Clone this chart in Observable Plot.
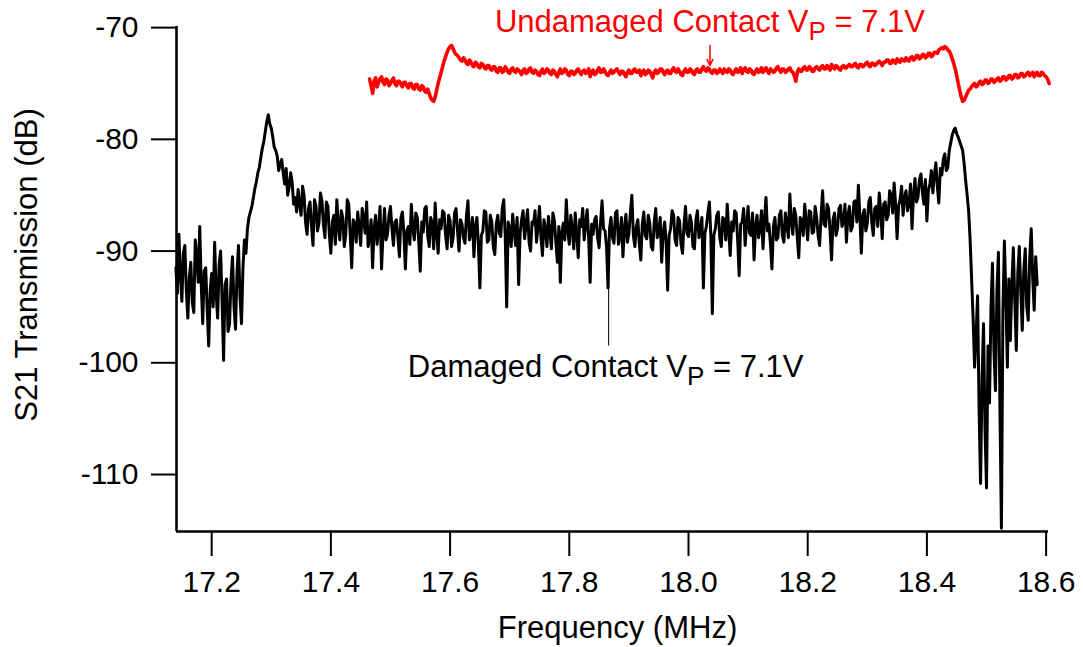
<!DOCTYPE html>
<html>
<head>
<meta charset="utf-8">
<script src="https://cdn.jsdelivr.net/npm/d3@7"></script>
<script src="https://cdn.jsdelivr.net/npm/@observablehq/plot@0.6"></script>
<style>
  html, body { margin: 0; padding: 0; background: #fff; }
  svg { font-family: "Liberation Sans", Arial, sans-serif; }
</style>
</head>
<body>
<div id="chart"></div>
<script>
// Damaged contact trace: frequency sweep start/step (MHz) and S21 (dB)
const damagedStart = 17.140;
const damagedStep = 0.0025;
const damagedDB = [
  -91.5, -93.8, -88.5, -92.0, -94.5, -90.2, -89.5, -93.5, -96.0, -92.4, -91.0, -94.6, -95.5, -89.0, -90.5, -92.8, -87.8, -93.0, -96.5, -91.8,
  -91.5, -95.2, -98.5, -93.6, -92.0, -95.0, -89.2, -93.8, -96.0, -91.2, -90.0, -94.5, -99.8, -93.0, -92.5, -97.2, -96.5, -92.6, -90.5, -95.0,
  -97.0, -92.0, -89.5, -94.0, -96.5, -91.5, -89.0, -90.2, -88.0, -87.0, -86.5, -86.0, -85.2, -84.4, -83.8, -83.0, -82.5, -81.6, -80.8, -80.2,
  -79.3, -78.4, -77.8, -78.6, -79.0, -79.8, -80.7, -81.0, -81.5, -82.8, -82.2, -81.8, -83.0, -84.0, -82.6, -85.0, -84.3, -83.0, -83.8, -85.8,
  -85.2, -86.5, -84.5, -85.8, -86.8, -84.2, -85.0, -87.4, -88.5, -86.2, -85.6, -87.8, -89.5, -85.4, -86.0, -88.2, -87.5, -84.8, -85.5, -87.6,
  -88.8, -85.6, -86.0, -88.6, -90.2, -87.4, -86.8, -89.4, -85.4, -87.8, -89.0, -86.4, -87.0, -89.6, -88.5, -85.4, -85.8, -88.6, -91.5, -87.2,
  -87.5, -89.2, -86.5, -87.8, -89.5, -86.2, -87.0, -88.4, -85.6, -89.6, -88.8, -87.2, -91.5, -88.0, -86.8, -89.4, -88.0, -86.0, -91.6, -88.4,
  -86.2, -89.0, -88.5, -86.8, -86.0, -88.0, -89.5, -87.4, -87.2, -88.8, -90.5, -87.0, -86.5, -88.4, -91.6, -88.2, -87.8, -89.4, -85.8, -88.0,
  -89.0, -86.6, -87.0, -89.2, -91.8, -87.4, -88.3, -86.2, -86.0, -88.6, -89.6, -87.0, -87.5, -89.8, -85.7, -88.4, -90.2, -87.2, -88.0, -86.4,
  -86.6, -88.6, -89.8, -86.8, -87.3, -89.6, -88.8, -86.6, -86.2, -88.2, -90.0, -87.2, -87.6, -88.8, -89.3, -86.8, -85.5, -89.0, -88.4, -87.0,
  -90.5, -87.8, -87.0, -89.4, -93.3, -88.6, -88.2, -86.4, -86.5, -89.2, -89.0, -86.8, -87.4, -89.6, -90.3, -87.6, -86.8, -88.4, -88.7, -86.2,
  -85.4, -88.6, -95.0, -87.4, -88.0, -89.6, -86.7, -88.2, -89.5, -87.0, -93.0, -88.4, -87.2, -86.4, -88.9, -87.6, -86.3, -89.2, -90.0, -87.4,
  -87.6, -86.4, -89.2, -87.8, -86.0, -88.8, -90.4, -87.2, -88.1, -89.6, -86.9, -88.2, -89.8, -86.6, -87.3, -89.2, -91.0, -87.8, -92.8, -88.4,
  -87.5, -89.0, -85.4, -88.2, -89.4, -86.8, -88.0, -89.8, -86.6, -88.4, -90.6, -87.2, -87.8, -86.2, -89.0, -87.6, -86.3, -88.8, -92.8, -87.6,
  -88.5, -87.2, -86.9, -88.8, -89.7, -87.4, -85.5, -88.0, -88.2, -89.6, -93.3, -88.0, -87.0, -88.8, -89.3, -86.6, -86.4, -89.4, -88.8, -87.0,
  -90.5, -88.0, -86.7, -89.2, -88.4, -86.6, -85.0, -88.6, -89.6, -87.8, -87.2, -89.4, -90.8, -87.6, -86.5, -88.6, -88.9, -86.8, -87.5, -89.6,
  -89.9, -87.4, -86.2, -88.8, -88.5, -87.0, -91.0, -88.4, -87.4, -89.2, -93.5, -88.6, -88.0, -86.4, -86.8, -89.0, -89.5, -87.0, -87.3, -89.4,
  -90.2, -87.6, -86.0, -88.4, -88.7, -86.8, -87.5, -89.6, -89.8, -87.2, -86.4, -88.8, -88.3, -87.0, -93.3, -88.4, -87.8, -86.6, -85.6, -88.6,
  -95.6, -88.6, -88.0, -86.8, -86.5, -88.8, -89.6, -87.0, -87.2, -89.0, -85.8, -88.2, -90.4, -87.4, -88.2, -86.4, -86.6, -89.0, -92.2, -87.6,
  -87.4, -86.2, -89.5, -87.6, -86.0, -88.4, -88.6, -86.6, -90.8, -87.8, -86.8, -88.8, -88.0, -86.4, -89.8, -87.2, -85.2, -88.2, -87.6, -89.4,
  -91.6, -87.8, -87.0, -89.0, -88.8, -86.8, -86.4, -88.6, -89.2, -86.6, -87.6, -88.8, -84.9, -87.4, -88.5, -86.2, -86.8, -88.8, -90.6, -87.0,
  -87.2, -88.6, -85.8, -87.4, -89.0, -86.4, -86.5, -88.4, -88.3, -86.0, -87.0, -88.6, -89.5, -86.8, -84.6, -87.6, -87.8, -85.8, -86.2, -88.2,
  -90.8, -87.2, -86.6, -88.6, -88.0, -86.2, -85.9, -87.8, -87.5, -85.8, -89.2, -86.8, -86.0, -88.2, -87.8, -85.6, -85.5, -87.4, -84.1, -86.8,
  -90.2, -86.8, -86.3, -88.2, -87.5, -85.6, -85.2, -87.4, -88.6, -86.2, -86.0, -87.8, -84.8, -86.4, -88.9, -85.8, -85.6, -87.2, -86.8, -84.6,
  -85.0, -86.6, -83.9, -85.8, -88.9, -86.0, -85.4, -84.2, -86.8, -85.2, -84.6, -86.4, -85.8, -84.0, -88.0, -85.0, -83.5, -85.6, -85.2, -83.6,
  -83.1, -84.8, -85.8, -83.6, -87.3, -84.6, -84.0, -82.8, -84.8, -83.2, -82.1, -84.2, -85.7, -82.6, -83.2, -81.8, -81.3, -82.8, -82.5, -81.0,
  -80.3, -79.6, -79.2, -79.0, -79.5, -79.8, -80.2, -80.6, -81.0, -82.2, -83.7, -85.0, -86.4, -89.0, -92.5, -96.0, -100.4, -97.5, -94.0, -104.0,
  -110.8, -101.5, -96.5, -106.0, -111.2, -98.5, -103.6, -95.0, -91.1, -99.0, -102.5, -93.5, -90.1, -104.0, -114.8, -95.5, -89.1, -94.0, -100.4, -92.5,
  -98.0, -93.0, -89.7, -94.6, -98.9, -92.0, -89.6, -93.5, -97.1, -91.8, -89.8, -95.0, -96.2, -90.6, -88.0, -92.4, -95.3, -90.5, -93.0
];

// Undamaged contact trace
const undamagedStart = 17.465;
const undamagedStep = 0.0025;
const undamagedDB = [
  -74.6, -75.2, -75.9, -74.8, -74.5, -75.3, -74.9, -74.6, -74.4, -74.9, -75.1, -74.6, -74.7, -75.2, -75.0, -74.7, -74.5, -75.0, -75.2, -74.8,
  -74.8, -75.1, -75.3, -74.9, -74.9, -75.2, -75.4, -75.0, -75.0, -75.4, -75.5, -75.1, -75.1, -75.5, -75.6, -75.2, -75.3, -75.7, -75.8, -75.5,
  -75.9, -76.3, -76.5, -76.6, -76.2, -75.6, -75.0, -74.5, -74.0, -73.5, -73.0, -72.6, -72.2, -71.9, -71.7, -71.6, -71.9, -72.2, -72.4, -72.5,
  -72.7, -72.9, -73.0, -72.7, -72.9, -73.2, -73.3, -72.9, -73.1, -73.4, -73.5, -73.1, -73.2, -73.5, -73.6, -73.2, -73.3, -73.6, -73.7, -73.4,
  -73.4, -73.7, -73.8, -73.5, -73.5, -73.9, -74.0, -73.6, -73.6, -74.0, -73.9, -73.5, -73.7, -74.0, -74.1, -73.7, -73.6, -73.9, -74.0, -73.7,
  -73.8, -74.0, -74.2, -73.8, -73.7, -74.1, -74.0, -73.7, -73.6, -74.0, -74.1, -73.8, -73.9, -74.2, -74.3, -73.9, -73.7, -74.1, -74.0, -73.7,
  -73.8, -74.1, -74.2, -73.8, -73.9, -74.2, -74.4, -74.0, -73.7, -74.1, -74.0, -73.7, -73.8, -74.2, -74.3, -73.9, -73.9, -74.2, -74.1, -73.8,
  -73.7, -74.0, -74.2, -73.9, -73.8, -74.1, -74.0, -73.7, -74.4, -74.0, -73.8, -74.2, -74.1, -73.8, -73.6, -74.0, -74.0, -73.7, -73.9, -74.2,
  -74.3, -74.0, -73.8, -74.1, -74.0, -73.8, -73.7, -74.0, -74.2, -73.9, -73.9, -74.2, -74.4, -74.0, -73.8, -74.1, -74.1, -73.8, -73.7, -74.0,
  -74.0, -73.8, -74.3, -74.0, -73.8, -74.2, -74.1, -73.8, -73.9, -74.2, -74.5, -74.0, -73.8, -74.1, -74.0, -73.7, -73.7, -74.0, -74.2, -73.9,
  -73.8, -74.1, -74.1, -73.8, -73.6, -73.9, -74.0, -73.7, -73.9, -74.2, -74.3, -73.9, -73.7, -74.0, -74.0, -73.7, -73.8, -74.1, -74.2, -73.8,
  -73.7, -74.0, -74.0, -73.7, -73.5, -73.8, -73.9, -73.6, -73.7, -74.0, -74.1, -73.8, -73.8, -74.1, -74.0, -73.7, -73.9, -74.1, -73.7, -73.9,
  -74.0, -73.7, -73.8, -74.1, -74.2, -73.9, -73.7, -74.0, -73.9, -73.6, -74.1, -73.8, -73.6, -73.9, -74.0, -73.7, -73.8, -74.1, -74.2, -73.9,
  -73.7, -74.0, -73.9, -73.6, -74.0, -73.8, -73.6, -73.9, -74.1, -73.7, -73.8, -74.0, -73.9, -73.6, -73.5, -73.8, -74.0, -73.7, -73.7, -74.0,
  -73.9, -73.7, -73.6, -73.9, -74.0, -74.3, -74.8, -74.0, -73.7, -73.9, -73.9, -73.6, -73.5, -73.8, -73.8, -73.5, -73.6, -73.9, -73.9, -73.6,
  -73.5, -73.7, -73.8, -73.5, -73.4, -73.7, -73.7, -73.4, -73.6, -73.8, -73.3, -73.5, -73.7, -73.4, -73.5, -73.7, -73.8, -73.5, -73.4, -73.6,
  -73.6, -73.4, -73.3, -73.5, -73.5, -73.3, -73.2, -73.5, -73.6, -73.3, -73.3, -73.5, -73.4, -73.2, -73.1, -73.4, -73.5, -73.2, -73.2, -73.4,
  -73.3, -73.1, -73.0, -73.2, -73.4, -73.1, -73.1, -72.9, -72.9, -73.2, -73.2, -72.9, -73.0, -73.2, -72.8, -73.0, -73.1, -72.8, -72.9, -73.0,
  -72.7, -72.9, -73.0, -72.7, -72.6, -72.9, -72.8, -72.5, -72.5, -72.8, -72.7, -72.4, -72.4, -72.7, -72.6, -72.3, -72.3, -72.6, -72.5, -72.2,
  -72.2, -72.3, -72.0, -71.9, -71.8, -71.9, -71.7, -71.8, -72.0, -72.1, -72.4, -72.8, -73.2, -73.7, -74.3, -75.0, -75.6, -76.2, -76.6, -76.5,
  -76.2, -75.9, -75.6, -75.5, -75.3, -75.1, -75.0, -75.3, -75.2, -74.9, -74.8, -75.1, -75.0, -74.7, -74.7, -75.0, -74.9, -74.6, -74.6, -74.9,
  -74.8, -74.6, -74.5, -74.8, -74.7, -74.4, -74.4, -74.7, -74.6, -74.3, -74.3, -74.6, -74.5, -74.2, -74.2, -74.5, -74.4, -74.1, -74.1, -74.4,
  -74.3, -74.1, -74.0, -74.3, -74.2, -74.0, -74.4, -74.1, -74.0, -74.3, -74.3, -74.0, -74.1, -74.3, -74.4, -74.6, -75.0
];

const xTicks = [17.2, 17.4, 17.6, 17.8, 18.0, 18.2, 18.4, 18.6];
const yTicks = [-110, -100, -90, -80, -70];
const xTitle = "Frequency (MHz)";
const yTitle = "S21 Transmission (dB)";

// Annotation labels (frequency, dB) and pointers
const labelTexts = ["Undamaged Contact V_P = 7.1V", "Damaged Contact V_P = 7.1V"];
const labelFreqs = [18.036, 17.861];
const labelDB = [-69.46, -100.35];
const labelColors = ["#ff0000", "#000000"];
const redPointer = [{ f: 18.036, top: -71.6, bottom: -73.4 }];
const blackPointer = [{ f: 17.866, top: -91.0, bottom: -98.5 }];

const damaged = damagedDB.map((v, i) => ({ f: +(damagedStart + i * damagedStep).toFixed(4), db: v }));
const undamaged = undamagedDB.map((v, i) => ({ f: +(undamagedStart + i * undamagedStep).toFixed(4), db: v }));
const labels = labelTexts.map((t, i) => ({ text: t, f: labelFreqs[i], db: labelDB[i], color: labelColors[i] }));

const xDomain = [17.141, 18.604];
const yDomain = [-115.1, -69.9];

const chart = Plot.plot({
  width: 1083,
  height: 647,
  marginLeft: 176,
  marginRight: 35,
  marginTop: 26,
  marginBottom: 116,
  x: { domain: xDomain },
  y: { domain: yDomain },
  style: { fontFamily: "'Liberation Sans', Arial, sans-serif", fontSize: "30px", color: "#000", background: "#fff", overflow: "visible" },
  marks: [
    Plot.line(damaged, { x: "f", y: "db", stroke: "#000", strokeWidth: 3, strokeLinejoin: "round" }),
    Plot.line(undamaged, { x: "f", y: "db", stroke: "#ff0000", strokeWidth: 3.6, strokeLinejoin: "round" }),
    Plot.ruleX(blackPointer, { x: "f", y1: "top", y2: "bottom", stroke: "#000", strokeWidth: 1 }),
    Plot.arrow(redPointer, { x1: "f", x2: "f", y1: "top", y2: "bottom", stroke: "#ff0000", strokeWidth: 1.5, headLength: 9, headAngle: 50 }),
    Plot.axisX({ ticks: xTicks, tickSize: 25, tickPadding: 14, tickFormat: d3.format(".1f"), label: null, strokeWidth: 2, fontSize: 30 }),
    Plot.axisY({ ticks: yTicks, tickSize: 25, tickPadding: 13, tickFormat: d => String(d), label: null, strokeWidth: 2, fontSize: 30 }),
    Plot.ruleX([xDomain[0]], { stroke: "#000", strokeWidth: 2.6 }),
    Plot.ruleY([yDomain[0]], { stroke: "#000", strokeWidth: 2.6 }),
    Plot.text([xTitle], { text: d => d, frameAnchor: "bottom", dx: 5, dy: 106, fontSize: 31, fill: "#000" }),
    Plot.text([yTitle], { text: d => d, frameAnchor: "left", textAnchor: "middle", rotate: -90, dx: -149, dy: -14, fontSize: 31, fill: "#000" }),
    Plot.text(labels, { x: "f", y: "db", text: "text", fill: "color", fontSize: 31, textAnchor: "middle" })
  ]
});

// Render "V_P" as V with subscript P
d3.select(chart).selectAll("text").filter(function () { return this.textContent.includes("V_P"); }).each(function () {
  const t = d3.select(this);
  const parts = this.textContent.split("_P");
  t.text(null);
  t.append("tspan").text(parts[0]);
  t.append("tspan").attr("dy", 8).attr("font-size", 26).text("P");
  t.append("tspan").attr("dy", -8).text(parts[1]);
});

document.getElementById("chart").appendChild(chart);
</script>
</body>
</html>
